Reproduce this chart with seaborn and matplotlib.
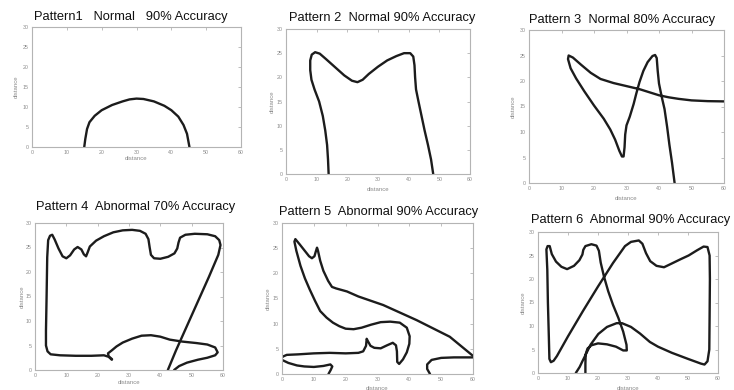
import numpy as np
import pandas as pd
import matplotlib
matplotlib.use("Agg")
import matplotlib.pyplot as plt
import seaborn as sns

sns.set_style("white")
plt.rcParams["font.family"] = ["Liberation Sans", "DejaVu Sans"]

# ---- traced paths (x = distance, y = distance) ----
p1_x = [15, 15.3, 15.8, 16.5, 18, 20, 23, 26, 28, 30, 32, 35, 38, 40, 42, 43.5, 44.5, 45.2]
p1_y = [0, 2, 4.5, 6.2, 7.8, 9.2, 10.5, 11.4, 11.9, 12.1, 12, 11.4, 10.3, 9.2, 7.6, 5.5, 3.3, 0]

p2_x = [13.9, 13.7, 13.4, 12.8, 12, 10.8, 9.3, 8.3, 7.9, 7.9, 8.4, 9.5, 11, 13, 16, 19, 21.5, 23.3,
        25, 27, 30, 33, 36, 38.5, 40.5, 41.5, 41.9, 42.1, 42.4, 43.2, 44.2, 45.2, 46.3, 47.3, 48]
p2_y = [0, 3, 6, 9, 12, 15, 17.5, 19.5, 21.5, 23.5, 24.7, 25.2, 24.9, 23.8, 22.1, 20.4, 19.3, 19,
        19.5, 20.7, 22.2, 23.5, 24.4, 25, 25, 24.3, 22.5, 20, 17.5, 15, 12, 9, 6, 3, 0]

p3_x = [60, 55, 50, 46, 43, 40, 37, 34, 30, 26, 22, 19, 16, 13.5, 12.2, 12, 12.8, 14.5, 17, 20,
        23, 25, 26.5, 27.8, 28.6, 29.1, 29.4, 29.6, 30, 31, 32.2, 33, 34, 35.2, 36.5, 38, 38.8,
        39.3, 39.6, 40, 40.8, 41.7, 42.5, 43.2, 44, 44.8]
p3_y = [16, 16.05, 16.2, 16.5, 16.8, 17.2, 17.8, 18.4, 19, 19.6, 20.4, 21.6, 23.2, 24.6, 25, 24.3,
        22.5, 20.5, 18, 15.2, 12.6, 10.5, 8.5, 6.3, 5.2, 5.2, 7, 9.5, 11.3, 13, 15.5, 17.5, 19.8,
        22, 23.7, 24.9, 25.1, 24.5, 22, 19.5, 17, 14.5, 11, 7.5, 4, 0]

p4a_x = [42.4, 45, 48.5, 52, 55.5, 58.5, 59.2, 58.8, 57.5, 55, 51, 48, 46.3, 45.8, 45.4, 44.5, 42.5,
         40, 38, 37, 36.6, 36.2, 35.3, 33.5, 31, 28, 25, 22, 19.5, 17.5, 16.8, 16.3, 15.6, 14.8,
         13.6, 12.5, 11.2, 10, 8.8, 7.5, 6.3, 5.5, 4.8, 4.2, 3.9, 3.7, 3.5, 3.5, 4, 5, 8, 13, 18,
         22, 23.5, 24.5]
p4a_y = [0, 4, 9, 14, 19, 23.5, 25.5, 26.5, 27.3, 27.7, 27.8, 27.6, 27, 26, 24.8, 23.8, 23.1,
         22.7, 22.8, 23.5, 25, 26.7, 27.8, 28.4, 28.6, 28.5, 28.1, 27.3, 26.4, 25.2, 24, 23.2, 23.6,
         24.6, 25.1, 24.6, 23.4, 22.8, 23.2, 24.8, 26.6, 27.6, 27.4, 26.5, 23, 15, 8, 5, 3.8, 3.2,
         3, 2.9, 2.9, 3, 2.7, 2.1]
p4b_x = [44.4, 46, 48.5, 52, 55, 57.5, 58.3, 57.5, 55, 51.5, 47, 43, 40, 37, 34, 31, 28, 26, 24.5,
         23.3, 23.5, 24.6]
p4b_y = [0, 0.8, 1.5, 2.1, 2.5, 3, 3.6, 4.6, 5.2, 5.5, 5.8, 6.2, 6.8, 7.1, 7, 6.4, 5.6, 4.8, 4,
         3.4, 2.8, 2.2]

p5a_x = [60, 52.7, 42.3, 31.8, 24, 20.4, 17, 15.7, 14.5, 13, 12, 11.3, 11, 10.6, 10.2, 9.4, 8.5, 7,
         5.5, 4.2, 3.9, 4.5, 5.8, 7.2, 8.7, 10.4, 12, 14, 16, 18, 20, 22.5, 25, 28, 31, 34, 37,
         39.2, 40.1, 40, 39.2, 38, 36.8, 36.2, 36.1, 35.8, 34.8, 33, 31, 29, 27.8, 27, 26.6, 26.4,
         25.5, 24, 20, 15, 10, 5, 1.5, 0.4, 0]
p5a_y = [3.6, 7.4, 10.7, 13.7, 15.4, 16.4, 17, 17.3, 18.5, 20.5, 22.5, 24.5, 25.1, 24.3, 23.4, 23,
         23.4, 24.6, 25.8, 26.8, 26.3, 24.5, 21.5, 19, 16.8, 14.5, 12.5, 11.2, 10.2, 9.5, 9, 8.9,
         9.2, 9.8, 10.3, 10.4, 10.2, 9.2, 7.5, 6, 4.3, 2.9, 2, 2.4, 4.5, 5.7, 6.2, 5.7, 5.1, 5.2,
         5.6, 6.5, 7, 5.6, 4.5, 4.2, 4.1, 4.2, 4.1, 3.9, 3.8, 3.5, 3.3]
p5b_x = [0, 2, 4.7, 7, 10, 13, 15.2, 15.8, 15.3, 14.6]
p5b_y = [2.8, 2.2, 1.7, 1.5, 1.4, 1.6, 1.9, 1.5, 0.8, 0]
p5c_x = [46.5, 45.6, 45.6, 47, 50, 54, 57, 60]
p5c_y = [0, 1, 1.9, 2.8, 3.2, 3.3, 3.3, 3.3]

p6_x = [15.8, 15.8, 15.9, 16.5, 17.8, 20, 23, 26, 28.4, 29.6, 29.5, 28.4, 26.8, 25, 23.4, 22, 20.9,
        20.3, 19.5, 17.8, 15.8, 15.1, 14.8, 13.8, 12, 9.7, 7.8, 6, 4.6, 3.9, 3.2, 2.8, 3.1, 3.3,
        3.6, 3.8, 4.3, 5.2, 6.3, 10, 15, 20, 25, 29, 31, 33.6, 34.8, 36, 37.4, 39.5, 42, 44.6,
        47.5, 50.2, 53, 55.2, 56.5, 57.2, 57.3, 57.2, 57.1, 56.5, 55.5, 54.3, 50, 44.6, 40, 37.3,
        34, 31, 28, 26.2, 23, 20.1, 17.5, 16.2, 14.8, 13.9, 12.6]
p6_y = [0, 2, 4, 5.2, 5.9, 6.3, 6.1, 5.6, 4.8, 4.8, 6, 8.8, 11.7, 14.5, 17.4, 20.5, 23.5, 26, 27.1,
        27.4, 27, 26.2, 25.2, 24, 22.8, 22.1, 22.6, 23.7, 25.3, 27, 27, 26.3, 22, 15, 8, 3, 2.3,
        2.6, 3.6, 7.8, 13.2, 18.4, 23.4, 27, 27.9, 28.2, 27.5, 25.5, 23.8, 22.8, 22.5, 23.3, 24.2,
        25, 26.1, 26.9, 26.8, 25, 20, 12, 5, 2.5, 1.8, 2, 3, 4.3, 5.6, 6.6, 8.4, 9.8, 10.6, 10.6,
        9.8, 8.3, 6, 4.3, 2.5, 1.3, 0]

titles = [
    "Pattern1   Normal   90% Accuracy",
    "Pattern 2  Normal 90% Accuracy",
    "Pattern 3  Normal 80% Accuracy",
    "Pattern 4  Abnormal 70% Accuracy",
    "Pattern 5  Abnormal 90% Accuracy",
    "Pattern 6  Abnormal 90% Accuracy",
]
x_ticks = [0, 10, 20, 30, 40, 50, 60]
y_ticks = [0, 5, 10, 15, 20, 25, 30]

panels = [
    [(p1_x, p1_y)],
    [(p2_x, p2_y)],
    [(p3_x, p3_y)],
    [(p4a_x, p4a_y), (p4b_x, p4b_y)],
    [(p5a_x, p5a_y), (p5b_x, p5b_y), (p5c_x, p5c_y)],
    [(p6_x, p6_y)],
]

# layout in pixels: axes box (left, top, right, bottom), title centre, ylabel x, xlabel y
W, H = 734, 390
boxes = [(32, 27, 241, 147), (286, 29, 470, 174), (529, 30, 724, 183),
         (35, 223, 223, 370), (282, 223, 473, 374), (538, 232, 718, 373)]
title_pos = [(131, 17), (382, 18), (622, 20), (136, 207), (379, 212), (631, 220)]
ylabel_x = [16, 272, 513, 22, 268, 523]
xlabel_y = [159, 189, 199, 383, 388, 388]

fig = plt.figure(figsize=(W / 100, H / 100), dpi=100)
spine_col = "#b4b4b4"
text_col = "#8a8a8a"

for i, (paths, box) in enumerate(zip(panels, boxes)):
    l, t, r, b = box
    ax = fig.add_axes([l / W, 1 - b / H, (r - l) / W, (b - t) / H])
    for px, py in paths:
        df = pd.DataFrame({"x": px, "y": py})
        sns.lineplot(data=df, x="x", y="y", sort=False, estimator=None, ax=ax,
                     color="#1c1c1c", linewidth=1.7, solid_joinstyle="round",
                     solid_capstyle="round")
    ax.set_xlim(0, 60)
    ax.set_ylim(0, 30)
    ax.set_xticks(x_ticks)
    ax.set_yticks(y_ticks)
    ax.tick_params(direction="in", length=2, width=0.6, colors=spine_col,
                   labelcolor=text_col, labelsize=3.8, pad=2.5,
                   top=True, right=True)
    for s in ax.spines.values():
        s.set_color(spine_col)
        s.set_linewidth(0.8)
        s.set_visible(True)
    ax.set_xlabel("")
    ax.set_ylabel("")
    # axis labels placed by pixel position
    fig.text(ylabel_x[i] / W, 1 - ((t + b) / 2) / H, "distance", rotation=90,
             ha="center", va="center", fontsize=4.3, color=text_col)
    fig.text(((l + r) / 2) / W, 1 - xlabel_y[i] / H, "distance",
             ha="center", va="center", fontsize=4.3, color=text_col)
    tx, ty = title_pos[i]
    fig.text(tx / W, 1 - ty / H, titles[i], ha="center", va="center",
             fontsize=9.3, color="#111111")

fig.savefig("out.png", dpi=100)
